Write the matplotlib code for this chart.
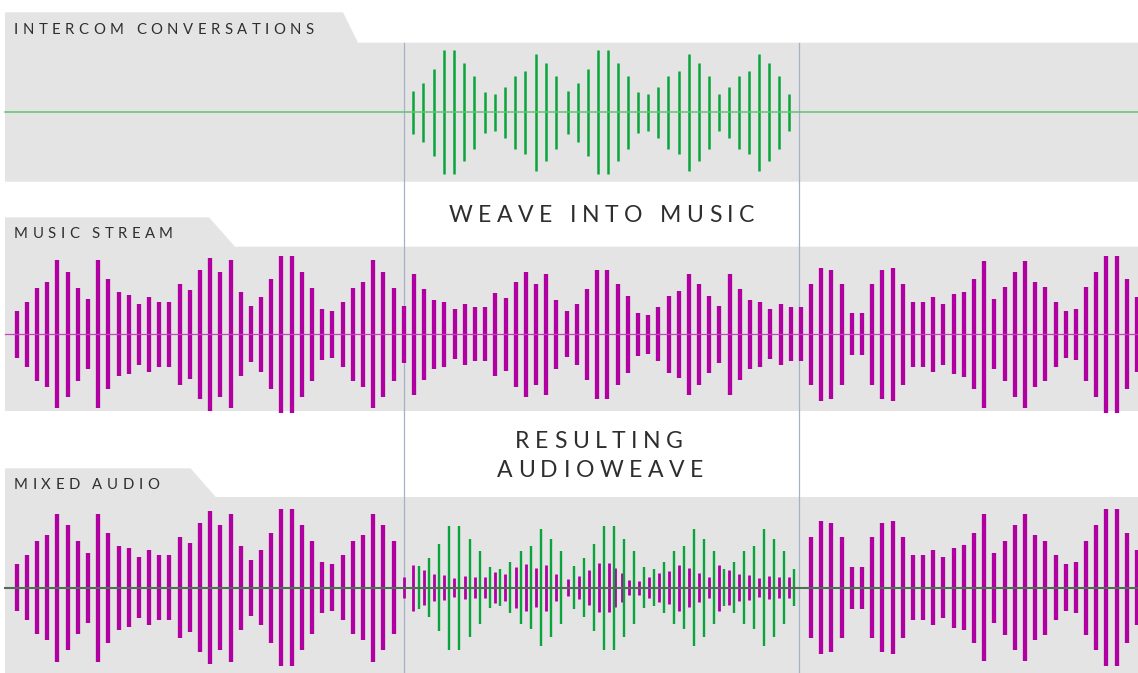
import matplotlib
matplotlib.use("Agg")
import matplotlib.pyplot as plt
import numpy as np
from matplotlib import font_manager
from matplotlib.font_manager import FontProperties
from matplotlib.ft2font import FT2Font
from matplotlib.patches import Polygon

# --- data (half heights of each bar) ---
music_amp = [23.3, 32.8, 46.7, 52.5, 74, 62.2, 46.7, 35, 74, 55,
             42, 39.7, 30.3, 37.3, 32.7, 32.7, 50.2, 44.3, 64.5, 76.2,
             62.2, 74, 42, 28, 37.3, 55, 78.5, 78.5, 62.2, 46.7,
             25.7, 23.3, 32.7, 46.7, 52.5, 74, 62.2, 46.7,
             28.8, 60.7, 45.2, 34.5, 32.7, 25, 30.8, 27, 27, 41.3,
             36.5, 52.8, 62.3, 50.8, 60.7, 34.5, 23, 30.8, 45.2, 64.5,
             64.5, 50.8, 38.5, 21.2, 19.2, 27, 38.5, 43.2, 60.7, 50.8,
             38.5, 28.8, 60.7, 45.2, 34.5, 32.7, 25, 30.8, 27, 27,
             50.3, 66.8, 64.2, 50.3, 21, 21, 50.3, 64.2, 66.8, 50.3,
             32.8, 32.8, 37.5, 30.3, 40, 42.3, 55, 73.7, 35, 47,
             62.2, 73.7, 52.8, 47, 32.8, 23.3, 25.7, 47, 62.2, 78.3,
             78.3, 55, 37.5]

# two voice clips: 15 bars, then 23 bars
voice_amp = [21.8, 29.8, 43.3, 62, 62, 49, 36.8, 20.2, 18.3, 25.8,
             36.8, 41.5, 58.2, 49, 36.8,
             21.8, 29.8, 43.3, 62, 62, 49, 36.8, 20.2, 18.3, 25.8,
             36.8, 41.5, 58.2, 49, 36.8, 18.3, 25.8, 36.8, 41.5, 58.2,
             49, 36.8, 18.3]
clip_lengths = [15, 23]

# music bars while the voice is woven in (ducked)
ducked_amp = [10.8, 23, 17.2, 13.2, 12.3, 9.3, 11.7, 10.3, 10.3, 15.8,
              13.8, 20.2, 23.7, 19.2, 23, 13.2, 8.5, 11.7, 17.2, 24.3,
              24.3, 19.2, 14.3, 7.7, 7, 10.3, 14.3, 16.7, 23, 19.2,
              14.3, 10.8, 23, 17.2, 13.2, 12.3, 9.3, 11.7, 10.3, 10.3]

weave_from, weave_to = 38, 78   # music bar indices covered by the voice
panel_labels = ["INTERCOM CONVERSATIONS", "MUSIC STREAM", "MIXED AUDIO"]
captions = ["WEAVE INTO MUSIC", "RESULTING", "AUDIOWEAVE"]

# --- style ---
W, H, DPI = 1138, 673, 100
FONT = "Lato"
GRAY = "#e4e4e4"
GREEN = "#07a53a"
MAGENTA = "#b000a2"
TEXT = "#2e2e2e"

fig = plt.figure(figsize=(W / DPI, H / DPI), dpi=DPI)
ax = fig.add_axes([0, 0, 1, 1])
ax.set_xlim(0, W)
ax.set_ylim(H, 0)
ax.axis("off")

font_path = font_manager.findfont(FontProperties(family=FONT))


def tracked_text(x, y_mid, s, size, track, ha="left"):
    # letter spaced caps, y_mid = middle of the capitals
    ft = FT2Font(font_path)
    ft.set_size(size, DPI)
    advs = [ft.load_char(ord(c)).linearHoriAdvance / 65536 for c in s]
    cap = ft.load_char(ord("H")).height / 64
    total = sum(advs) + track * (len(s) - 1)
    x0 = x - total / 2 if ha == "center" else x
    for c, a in zip(s, advs):
        ax.text(x0, y_mid + cap / 2, c, fontsize=size, family=FONT,
                color=TEXT, ha="left", va="baseline")
        x0 += a + track


def panel(tab_top, body_top, body_bottom, tab_x0, tab_x1, label):
    ax.add_patch(Polygon([(5, tab_top), (tab_x0, tab_top), (tab_x1, body_top),
                          (W, body_top), (W, body_bottom), (5, body_bottom)],
                         closed=True, fc=GRAY, ec="none", zorder=0))
    tracked_text(14, (tab_top + body_top) / 2 + 0.5, label, 10.7, 4.5)


panel(12.3, 42.7, 181.7, 343, 358, panel_labels[0])
panel(217.3, 246.7, 411, 209, 235, panel_labels[1])
panel(468.3, 497, H + 5, 190.5, 215.8, panel_labels[2])

music_amp = np.array(music_amp)
voice_amp = np.array(voice_amp)
ducked_amp = np.array(ducked_amp)

# time positions
music_x = np.linspace(16.7, 1137, len(music_amp))
voice_x = np.r_[413.3 + 10.19 * np.arange(clip_lengths[0]),
                568.3 + 10.02 * np.arange(clip_lengths[1])]
mix_voice_x = voice_x + 5.4
# ducked music bars sit in the gaps between the voice bars
gaps = (mix_voice_x[:-1] + mix_voice_x[1:]) / 2
duck_x = np.r_[music_x[weave_from], mix_voice_x[0] - 5.6, gaps[:19],
               gaps[19] - 3.4, gaps[19] + 3.4, gaps[20:]]

# weave boundaries
for vx in (music_x[weave_from], 799.5):
    ax.plot([vx, vx], [42.7, H], color="#a3b3c5", lw=0.9, zorder=1)

# intercom
cy = 112.3
ax.vlines(voice_x, cy - voice_amp, cy + voice_amp, colors=GREEN, lw=1.8,
          capstyle="butt", zorder=3)
ax.plot([5, W], [cy, cy], color="#62c072", lw=1.1, zorder=4)

# music
cy = 334.3
ax.vlines(music_x, cy - music_amp, cy + music_amp, colors=MAGENTA, lw=3.1,
          capstyle="butt", zorder=3)
ax.plot([5, W], [cy, cy], color="#c447b8", lw=0.9, zorder=4)

# mixed
cy = 587.6
keep = np.r_[0:weave_from, weave_to:len(music_amp)]
ax.vlines(music_x[keep], cy - music_amp[keep], cy + music_amp[keep],
          colors=MAGENTA, lw=3.1, capstyle="butt", zorder=3)
ax.vlines(duck_x, cy - ducked_amp, cy + ducked_amp, colors=MAGENTA, lw=2.0,
          capstyle="butt", zorder=3)
ax.vlines(mix_voice_x, cy - voice_amp, cy + voice_amp, colors=GREEN, lw=1.7,
          capstyle="butt", zorder=3)
ax.plot([5, W], [cy, cy], color="#4f6e56", lw=1.5, zorder=4)

# captions
tracked_text(601.5, 213.3, captions[0], 16.6, 5.6, ha="center")
tracked_text(599, 440, captions[1], 16.6, 5.6, ha="center")
tracked_text(600, 468.5, captions[2], 16.6, 5.6, ha="center")

fig.savefig("out.png", dpi=DPI, facecolor="white")
